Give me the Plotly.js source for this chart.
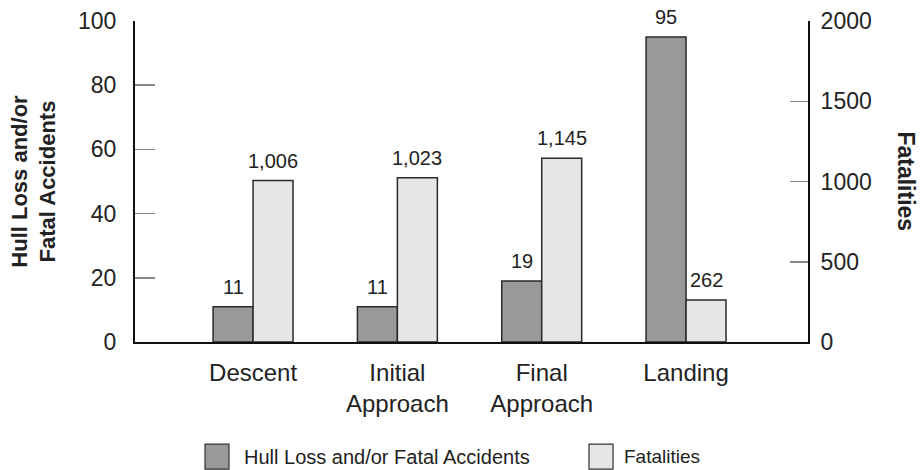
<!DOCTYPE html>
<html>
<head>
<meta charset="utf-8">
<script src="https://cdn.plot.ly/plotly-3.0.1.min.js"></script>
<style>html,body{margin:0;padding:0;background:#fff;}#chart{width:920px;height:470px;}</style>
</head>
<body>
<div id="chart"></div>
<script>
const categories = ['Descent', 'Initial<br>Approach', 'Final<br>Approach', 'Landing'];
const accidents = [11, 11, 19, 95];
const fatalities = [1006, 1023, 1145, 262];
const accidentLabels = ['11', '11', '19', '95'];
const fatalityLabels = ['1,006', '1,023', '1,145', '262'];
const seriesNames = ['Hull Loss and/or Fatal Accidents', 'Fatalities'];
const leftTicks = [0, 20, 40, 60, 80, 100];
const rightTicks = [0, 500, 1000, 1500, 2000];

const FONT = 'Liberation Sans, Arial, Helvetica, sans-serif';
const darkColor = '#999999';
const lightColor = '#e6e6e6';

const traces = [
  {
    type: 'bar', name: seriesNames[0], x: categories, y: accidents,
    yaxis: 'y', offsetgroup: 'a',
    marker: {color: darkColor, line: {color: '#2a2a2a', width: 1.5}},
    hoverinfo: 'skip'
  },
  {
    type: 'bar', name: seriesNames[1], x: categories, y: fatalities,
    yaxis: 'y2', offsetgroup: 'b',
    marker: {color: lightColor, line: {color: '#2a2a2a', width: 1.5}},
    hoverinfo: 'skip'
  }
];

const annotations = [];
categories.forEach((c, i) => {
  annotations.push({x: c, y: accidents[i], xref: 'x', yref: 'y', text: accidentLabels[i],
    showarrow: false, xshift: -20, yanchor: 'bottom', yshift: 7,
    font: {family: FONT, size: 20, color: '#222'}});
  annotations.push({x: c, y: fatalities[i], xref: 'x', yref: 'y2', text: fatalityLabels[i],
    showarrow: false, xshift: 20, yanchor: 'bottom', yshift: 7,
    font: {family: FONT, size: 20, color: '#222'}});
});
// right axis title
annotations.push({x: 1.168, y: 0.5, xref: 'paper', yref: 'paper', text: '<b>Fatalities</b>',
  textangle: 90, showarrow: false, font: {family: FONT, size: 23, color: '#222'}});
// custom legend text
annotations.push({x: 0.159, y: -0.357, xref: 'paper', yref: 'paper', text: seriesNames[0],
  xanchor: 'left', yanchor: 'middle', showarrow: false, font: {family: FONT, size: 20, color: '#222'}});
annotations.push({x: 0.7236, y: -0.357, xref: 'paper', yref: 'paper', text: seriesNames[1],
  xanchor: 'left', yanchor: 'middle', showarrow: false, font: {family: FONT, size: 19, color: '#222'}});

const shapes = [
  {type: 'rect', xref: 'paper', yref: 'paper', x0: 0.104, x1: 0.1397, y0: -0.396, y1: -0.318,
   fillcolor: darkColor, line: {color: '#333', width: 1.2}},
  {type: 'rect', xref: 'paper', yref: 'paper', x0: 0.6746, x1: 0.7103, y0: -0.396, y1: -0.318,
   fillcolor: lightColor, line: {color: '#333', width: 1.2}}
];

const layout = {
  width: 920, height: 470,
  margin: {l: 135, r: 112, t: 21, b: 128},
  paper_bgcolor: '#fff', plot_bgcolor: '#fff',
  font: {family: FONT, size: 22, color: '#222'},
  showlegend: false,
  barmode: 'group', bargap: 0.446, bargroupgap: 0,
  xaxis: {
    type: 'category', range: [-0.818, 3.845],
    showline: true, linecolor: '#111', linewidth: 2,
    ticks: '', showgrid: false, zeroline: false,
    tickfont: {family: FONT, size: 24, color: '#222'},
    ticklabelstandoff: 8
  },
  yaxis: {
    range: [0, 100], tickvals: leftTicks, ticktext: leftTicks.map(String),
    showline: true, linecolor: '#111', linewidth: 2,
    ticks: 'inside', ticklen: 20, tickcolor: '#888', tickwidth: 1.5,
    showgrid: false, zeroline: false,
    tickfont: {family: FONT, size: 23, color: '#222'},
    ticklabelstandoff: 12,
    title: {text: '<b>Hull Loss and/or<br>Fatal Accidents</b>', font: {family: FONT, size: 22, color: '#222'}, standoff: 16},
    automargin: false
  },
  yaxis2: {
    range: [0, 2000], tickvals: rightTicks, ticktext: rightTicks.map(String),
    overlaying: 'y', side: 'right', anchor: 'x',
    showline: true, linecolor: '#111', linewidth: 2,
    ticks: 'inside', ticklen: 18, tickcolor: '#888', tickwidth: 1.5,
    showgrid: false, zeroline: false,
    tickfont: {family: FONT, size: 23, color: '#222'},
    ticklabelstandoff: 6,
    automargin: false
  },
  annotations: annotations,
  shapes: shapes
};

Plotly.newPlot('chart', traces, layout, {displayModeBar: false, staticPlot: true});
</script>
</body>
</html>
